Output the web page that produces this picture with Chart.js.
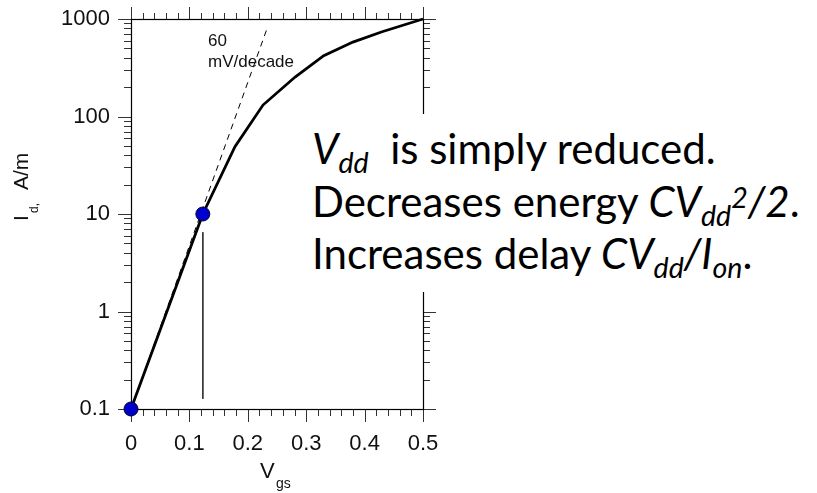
<!DOCTYPE html>
<html><head><meta charset="utf-8">
<script src="https://cdn.jsdelivr.net/npm/chart.js@4.4.1/dist/chart.umd.min.js"></script>
<style>
html,body{margin:0;padding:0;background:#fff;width:817px;height:493px;overflow:hidden;}
#wrap{position:relative;width:817px;height:493px;}
#c{position:absolute;left:0;top:0;}
#note{position:absolute;left:298px;top:114px;width:519px;height:178px;background:#fff;font-family:Lato,"Open Sans",sans-serif;font-size:42px;color:#000;}
#note .ln{position:absolute;left:14px;white-space:nowrap;line-height:42px;}
#note sub{font-size:0.68em;vertical-align:-0.3em;line-height:0;}
#note sup{font-size:0.68em;vertical-align:0.32em;line-height:0;}
</style></head>
<body><div id="wrap"><canvas id="c" width="817" height="493"></canvas>
<div id="note">
<div class="ln" style="top:13px"><i>V<sub>dd</sub></i>&nbsp; is simply reduced.</div>
<div class="ln" style="top:66px">Decreases energy <i>CV<sub>dd</sub><sup>2</sup>/2</i>.</div>
<div class="ln" style="top:118px">Increases delay <i>CV<sub>dd</sub>/I<sub>on</sub></i>.</div>
</div></div>
<script>
// ---- data ----
const vgsCurve = [0, 0.123, 0.178, 0.226, 0.281, 0.33, 0.38, 0.43, 0.5];
const idCurve  = [0.1, 10, 49, 131, 254, 420, 580, 740, 1000];
const vgsSlope = [0, 0.233];
const idSlope  = [0.1, 800];
const vgsMarkers = [0, 0.123];
const idMarkers  = [0.1, 10];
const vgsDrop = [0.123, 0.123];
const idDrop  = [6.5, 0.127];
const xTickValues = [0, 0.1, 0.2, 0.3, 0.4, 0.5];
const xTickLabels = ['0', '0.1', '0.2', '0.3', '0.4', '0.5'];
const yTickValues = [0.1, 1, 10, 100, 1000];
const yTickLabels = ['0.1', '1', '10', '100', '1000'];
const slopeLabel = ['60', 'mV/decade'];

const pts = (xs, ys) => xs.map((x, i) => ({x: x, y: ys[i]}));
const AX_FONT = '"Liberation Sans", Arial, sans-serif';

const framePlugin = {
  id: 'frame',
  beforeDatasetsDraw(chart) {
    const ctx = chart.ctx, a = chart.chartArea;
    const xs = chart.scales.x, ys = chart.scales.y;
    ctx.save();
    ctx.lineWidth = 1;
    ctx.beginPath();
    for (let k = 0; k <= 25; k++) {
      const v = k * 0.02;
      const px = Math.round(xs.getPixelForValue(v)) + 0.5;
      const major = (k % 5 === 0);
      const lb = major ? 13 : 7, lt = major ? 12 : 6;
      ctx.moveTo(px, a.bottom); ctx.lineTo(px, a.bottom + lb);
      ctx.moveTo(px, a.top); ctx.lineTo(px, a.top - lt);
    }
    for (let e = -1; e <= 3; e++) {
      for (let m = 1; m <= 9; m++) {
        const v = m * Math.pow(10, e);
        if (v > 1000.0001) continue;
        const py = Math.round(ys.getPixelForValue(v)) + 0.5;
        const l = (m === 1) ? 13 : 7;
        ctx.moveTo(a.left, py); ctx.lineTo(a.left - l, py);
        ctx.moveTo(a.right, py); ctx.lineTo(a.right + l, py);
      }
    }
    ctx.strokeStyle = '#333';
    ctx.stroke();
    ctx.strokeStyle = '#000';
    ctx.lineWidth = 1.2;
    ctx.strokeRect(Math.round(a.left) + 0.5, Math.round(a.top) + 0.5, Math.round(a.right - a.left), Math.round(a.bottom - a.top));
    ctx.restore();
  },
  afterDraw(chart) {
    const ctx = chart.ctx, a = chart.chartArea;
    ctx.save();
    ctx.fillStyle = '#111';
    ctx.textBaseline = 'alphabetic';
    ctx.textAlign = 'left';
    ctx.font = '17px ' + AX_FONT;
    ctx.fillText(slopeLabel[0], a.left + 77, a.top + 27);
    ctx.fillText(slopeLabel[1], a.left + 77, a.top + 48);
    const cx = (a.left + a.right) / 2;
    ctx.font = '22px ' + AX_FONT;
    ctx.fillText('V', cx - 17, a.bottom + 69);
    ctx.font = '14px ' + AX_FONT;
    ctx.fillText('gs', cx - 1, a.bottom + 79);
    ctx.translate(28, 221);
    ctx.rotate(-Math.PI / 2);
    ctx.font = '21px ' + AX_FONT;
    ctx.fillText('I', 0, 0);
    ctx.font = '12px ' + AX_FONT;
    ctx.fillText('d,', 8, 10);
    ctx.font = '21px ' + AX_FONT;
    ctx.fillText('A/m', 31, 0);
    ctx.restore();
  }
};

new Chart(document.getElementById('c'), {
  type: 'scatter',
  data: {
    datasets: [
      { data: pts(vgsMarkers, idMarkers), showLine: false, pointRadius: 7, pointBackgroundColor: '#0000cc', pointBorderColor: '#000033', pointBorderWidth: 1, clip: false },
      { data: pts(vgsCurve, idCurve), showLine: true, borderColor: '#000', borderWidth: 2.8, pointRadius: 0, tension: 0, clip: false },
      { data: pts(vgsSlope, idSlope), showLine: true, borderColor: '#000', borderWidth: 1, borderDash: [6, 5], pointRadius: 0, clip: false },
      { data: pts(vgsDrop, idDrop), showLine: true, borderColor: '#333', borderWidth: 1, pointRadius: 0, clip: false }
    ]
  },
  options: {
    responsive: false, animation: false, devicePixelRatio: 1,
    layout: { padding: { left: 0, top: 19, right: 394, bottom: 0 } },
    plugins: { legend: { display: false }, tooltip: { enabled: false } },
    scales: {
      x: {
        type: 'linear', min: 0, max: 0.5,
        afterBuildTicks: s => { s.ticks = xTickValues.map(v => ({ value: v })); },
        afterFit: s => { s.height = 84; s.paddingLeft = 0; s.paddingRight = 0; },
        ticks: { callback: (v, i) => xTickLabels[i], font: { family: AX_FONT, size: 22 }, color: '#111', padding: 22, maxRotation: 0, autoSkip: false },
        grid: { display: false, drawTicks: false },
        border: { display: false }
      },
      y: {
        type: 'logarithmic', min: 0.1, max: 1000,
        afterBuildTicks: s => { s.ticks = yTickValues.map(v => ({ value: v })); },
        afterFit: s => { s.width = 131; s.paddingTop = 0; s.paddingBottom = 0; },
        ticks: { callback: (v, i) => yTickLabels[i], font: { family: AX_FONT, size: 22 }, color: '#111', padding: 21, autoSkip: false },
        grid: { display: false, drawTicks: false },
        border: { display: false }
      }
    }
  },
  plugins: [framePlugin]
});
</script>
</body></html>
